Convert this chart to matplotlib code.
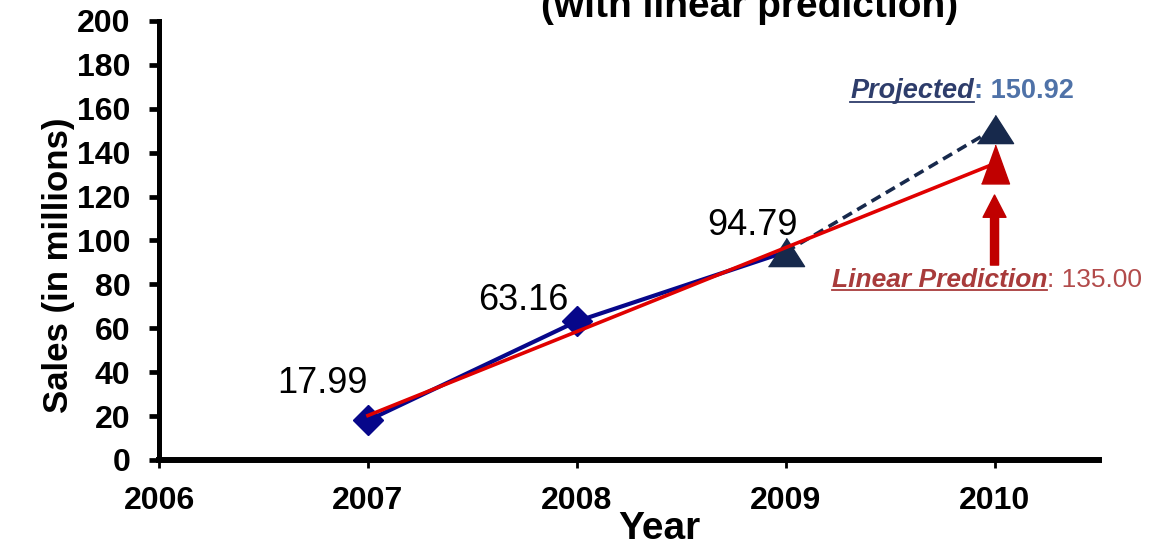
import matplotlib
matplotlib.use("Agg")
import matplotlib.pyplot as plt
from matplotlib.lines import Line2D


# ==========================================================
# DATA
# ==========================================================

years = [2007, 2008, 2009]
sales = [17.99, 63.16, 94.79]

proj_years = [2009, 2010]
proj_sales = [94.79, 150.92]

trend_years = [2007, 2010]
trend_sales = [20.25, 135.00]

x_ticks = [2006, 2007, 2008, 2009, 2010]
y_ticks = [0, 20, 40, 60, 80, 100, 120, 140, 160, 180, 200]


# ==========================================================
# STYLE
# ==========================================================

plt.rcParams["font.family"] = ["Liberation Sans", "DejaVu Sans"]

NAVY = "#07078a"
DARK = "#17294c"
RED = "#e00000"
ARROW_RED = "#c00000"

# tall / wide triangles
tri_tall = [(-0.36, -0.5), (0.36, -0.5), (0, 0.5)]
tri_wide = [(-0.5, -0.39), (0.5, -0.39), (0, 0.39)]


# ==========================================================
# FIGURE
# ==========================================================

fig = plt.figure(figsize=(11.55, 5.52), dpi=100)
ax = fig.add_axes([0.1377, 0.1667, 0.8138, 0.7953])

# actual sales
ax.plot(years, sales, color=NAVY, lw=3, zorder=2)
ax.plot(years[:2], sales[:2], ls="none", marker="D", ms=15.5,
        color=NAVY, zorder=3)

# projection
ax.plot(proj_years, proj_sales, color=DARK, lw=2.6,
        dashes=(2.9, 1.7), zorder=2)
ax.plot(proj_years, proj_sales, ls="none", marker=tri_wide, ms=26,
        color=DARK, zorder=4)

# linear prediction
ax.plot(trend_years, trend_sales, color=RED, lw=2.6, zorder=5)
ax.plot(trend_years[1:], trend_sales[1:], ls="none", marker=tri_tall,
        ms=28, color=ARROW_RED, zorder=6)

# value labels
offsets = [(0, 20), (-6, 8), (9, 12)]
for x, y, off in zip(years, sales, offsets):
    ax.annotate(f"{y:.2f}", xy=(x, y), xytext=off,
                textcoords="offset points", ha="right", va="baseline",
                fontsize=26, color="black", zorder=7)

# arrow up to the predicted point
ax.annotate("", xy=(2010, 120.7), xytext=(2010, 88.8),
            arrowprops=dict(facecolor=ARROW_RED, edgecolor=ARROW_RED,
                            width=5.8, headwidth=16.5, headlength=16,
                            shrink=0), zorder=6)

# ----------------------------------------------------------
# annotations
# ----------------------------------------------------------

t_proj = ax.text(2009.31, 164.9, "Projected", fontsize=19.5,
                 fontweight="bold", fontstyle="italic", color="#2e3d6b",
                 va="baseline", ha="left")
ax.annotate(f": {proj_sales[1]:.2f}", xy=(1, 0), xycoords=t_proj,
            va="bottom", ha="left", fontsize=19.5, fontweight="bold",
            color="#4f72a8")

t_lin = ax.text(2009.221, 78.8, "Linear Prediction", fontsize=19,
                fontweight="bold", fontstyle="italic", color="#a83b3b",
                va="baseline", ha="left")
ax.annotate(f": {trend_sales[1]:.2f}", xy=(1, 0), xycoords=t_lin,
            va="bottom", ha="left", fontsize=19, color="#b24b4b",
            annotation_clip=False)

# ----------------------------------------------------------
# axes
# ----------------------------------------------------------

ax.set_xlim(2006, 2010.5)
ax.set_ylim(0, 200)
ax.set_xticks(x_ticks)
ax.set_yticks(y_ticks)
ax.set_xticklabels([str(v) for v in x_ticks])

for s in ["top", "right"]:
    ax.spines[s].set_visible(False)
ax.spines["left"].set_linewidth(3.6)
ax.spines["bottom"].set_linewidth(4.3)

ax.tick_params(axis="y", direction="out", length=7.5, width=3.4,
               pad=13, labelsize=23)
ax.tick_params(axis="x", direction="out", length=5.5, width=2,
               pad=13, labelsize=23)
for lab in ax.get_xticklabels() + ax.get_yticklabels():
    lab.set_fontweight("bold")

ax.set_ylabel("Sales (in millions)", fontsize=25, fontweight="bold")
ax.yaxis.set_label_coords(-0.089, 0.444)

fig.text(0.571, 1 - 511 / 552, "Year", fontsize=28, fontweight="bold",
         ha="center", va="top")
fig.text(0.649, 1 - 17 / 552, "(with linear prediction)", fontsize=28,
         fontweight="bold", ha="center", va="baseline")

# ----------------------------------------------------------
# underline for the italic captions
# ----------------------------------------------------------

fig.canvas.draw()
renderer = fig.canvas.get_renderer()
for t, col in [(t_proj, "#2e3d6b"), (t_lin, "#a83b3b")]:
    bb = t.get_window_extent(renderer)
    y_line = bb.y0 + 2
    fig.add_artist(Line2D([bb.x0 / fig.bbox.width, bb.x1 / fig.bbox.width],
                          [y_line / fig.bbox.height] * 2,
                          color=col, lw=1.3, transform=fig.transFigure))

fig.savefig("out.png", dpi=100)
